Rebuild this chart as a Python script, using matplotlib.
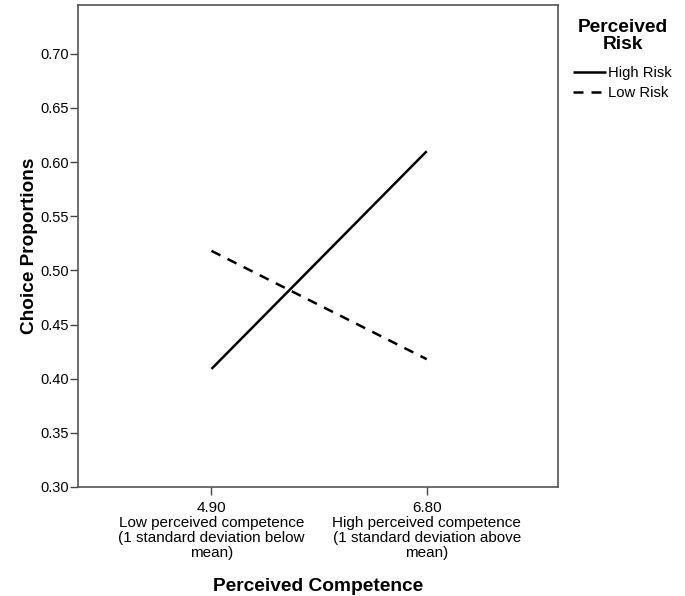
import numpy as np
import matplotlib.pyplot as plt

plt.rcParams['font.family'] = ['Liberation Sans', 'DejaVu Sans']

competence = ['4.90\nLow perceived competence\n(1 standard deviation below\nmean)',
              '6.80\nHigh perceived competence\n(1 standard deviation above\nmean)']
high_risk = [0.409, 0.610]
low_risk = [0.518, 0.418]
yticks = [0.30, 0.35, 0.40, 0.45, 0.50, 0.55, 0.60, 0.65, 0.70]

fig = plt.figure(figsize=(6.85, 5.96), dpi=100)
ax = fig.add_axes([0.1139, 0.1829, 0.7007, 0.8087])

x = np.arange(len(competence))
ax.plot(x, high_risk, color='black', lw=1.8, solid_capstyle='butt', label='High Risk')
ax.plot(x, low_risk, color='black', lw=1.8, dashes=(4, 3.2), label='Low Risk')

ax.set_xlim(-0.62, 1.61)
ax.set_ylim(0.30, 0.745)
ax.set_xticks(x)
ax.set_xticklabels(competence, fontsize=11, linespacing=1.1)
ax.set_yticks(yticks)
ax.set_yticklabels(['%.2f' % v for v in yticks], fontsize=10.5)
ax.tick_params(axis='y', direction='out', length=6, width=1, color='#444444', pad=0.5)
ax.tick_params(axis='x', direction='out', length=6, width=1, color='#444444', pad=4)

for s in ax.spines.values():
    s.set_color('#555555')
    s.set_linewidth(1.2)

ax.set_ylabel('Choice Proportions', fontsize=13.7, fontweight='bold', labelpad=2)
ax.set_xlabel('Perceived Competence', fontsize=13.8, fontweight='bold', labelpad=13)

# legend title drawn separately so the gap to the entries can match
fig.text(623 / 685, 1 - 36 / 596, 'Perceived\nRisk', ha='center', va='center',
         multialignment='center', fontsize=13.8, fontweight='bold', linespacing=0.95)
leg = ax.legend(loc='upper left', bbox_to_anchor=(573 / 685, 1 - 66 / 596),
                bbox_transform=fig.transFigure, frameon=False,
                fontsize=10.7, handlelength=2.2, handletextpad=0.15,
                labelspacing=0.42, borderpad=0, borderaxespad=0)

fig.savefig('out.png', dpi=100)
